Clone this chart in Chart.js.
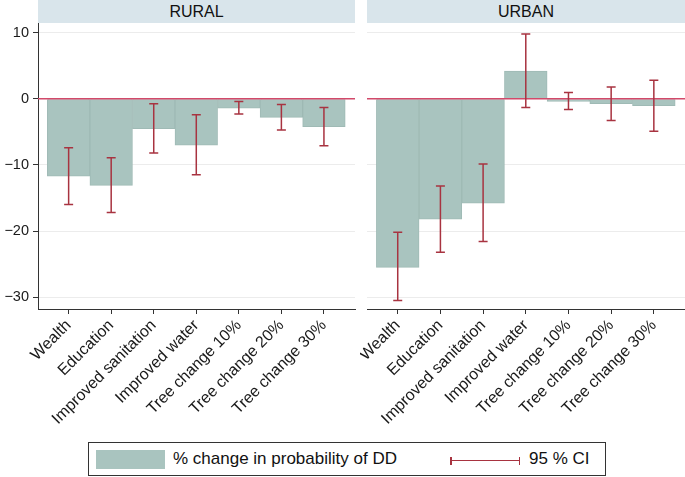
<!DOCTYPE html>
<html>
<head>
<meta charset="utf-8">
<script src="https://cdn.jsdelivr.net/npm/chart.js@4/dist/chart.umd.min.js"></script>
<style>
  body { margin: 0; background: #fff; font-family: "Liberation Sans", Arial, sans-serif; }
  #wrap { position: relative; width: 685px; height: 477px; overflow: hidden; }
  canvas { position: absolute; top: 0; }
  .strip { position: absolute; top: 0; height: 23px; background: #d9e5eb; color: #111;
           font-size: 16px; line-height: 23px; text-align: center; }
  #legend { position: absolute; left: 88px; top: 442px; width: 516px; height: 32px;
            border: 1px solid #333; box-sizing: content-box; font-size: 17px; color: #111; }
  #legend .sw { position: absolute; left: 7px; top: 7px; width: 69px; height: 19px; background: #a9c4bf; }
  #legend .t1 { position: absolute; left: 84px; top: 6px; }
  #legend .ci { position: absolute; left: 361px; top: 14px; width: 70px; height: 8px; }
  #legend .ci .h { position: absolute; left: 0; right: 0; top: 3px; height: 1.3px; background: #a83340; }
  #legend .ci .l, #legend .ci .r { position: absolute; top: 0; width: 1.5px; height: 8px; background: #a83340; }
  #legend .ci .l { left: 0; } #legend .ci .r { right: 0; }
  #legend .t2 { position: absolute; left: 440px; top: 6px; }
</style>
</head>
<body>
<div id="wrap">
  <canvas id="rural" width="357" height="440" style="left:0"></canvas>
  <canvas id="urban" width="325" height="440" style="left:360px"></canvas>
  <div class="strip" style="left:38px;width:317px">RURAL</div>
  <div class="strip" style="left:367px;width:318px">URBAN</div>
  <div id="legend">
    <div class="sw"></div>
    <div class="t1">% change in probability of DD</div>
    <div class="ci"><div class="h"></div><div class="l"></div><div class="r"></div></div>
    <div class="t2">95 % CI</div>
  </div>
</div>
<script>
var categories = ["Wealth", "Education", "Improved sanitation", "Improved water",
                  "Tree change 10%", "Tree change 20%", "Tree change 30%"];
var ruralChange = [-11.7, -13.1, -4.5, -7.0, -1.4, -2.8, -4.2];
var ruralLow    = [-16.0, -17.2, -8.2, -11.5, -2.3, -4.7, -7.1];
var ruralHigh   = [-7.4, -8.9, -0.75, -2.4, -0.4, -0.85, -1.3];
var urbanChange = [-25.5, -18.2, -15.8, 4.2, -0.4, -0.75, -1.05];
var urbanLow    = [-30.5, -23.2, -21.6, -1.3, -1.6, -3.3, -4.9];
var urbanHigh   = [-20.2, -13.2, -9.85, 9.8, 0.95, 1.8, 2.8];
var yTicks = [-30, -20, -10, 0, 10];

var fam = "'Liberation Sans', Arial, sans-serif";

// zero line + confidence interval whiskers, placed with the chart's scales
var ciPlugin = {
  id: 'ciBars',
  afterDatasetsDraw(chart, args, opts) {
    var ctx = chart.ctx, xs = chart.scales.x, ys = chart.scales.y, area = chart.chartArea;
    ctx.save();
    var y0 = ys.getPixelForValue(0);
    ctx.strokeStyle = '#d2496a';
    ctx.lineWidth = 1.5;
    ctx.beginPath();
    ctx.moveTo(area.left, y0);
    ctx.lineTo(area.right, y0);
    ctx.stroke();

    ctx.strokeStyle = '#a83340';
    ctx.lineWidth = 1.5;
    opts.low.forEach(function(lo, i) {
      var x = xs.getPixelForValue(i);
      var yl = ys.getPixelForValue(lo), yh = ys.getPixelForValue(opts.high[i]);
      ctx.beginPath();
      ctx.moveTo(x, yl); ctx.lineTo(x, yh);
      ctx.moveTo(x - 4.5, yl); ctx.lineTo(x + 4.5, yl);
      ctx.moveTo(x - 4.5, yh); ctx.lineTo(x + 4.5, yh);
      ctx.stroke();
    });
    ctx.restore();
  }
};

function makePanel(id, values, low, high, showY) {
  return new Chart(id, {
    type: 'bar',
    data: {
      datasets: [{
        data: values.map((v, i) => ({x: i, y: v})),
        backgroundColor: '#a9c4bf',
        borderColor: '#9fbab5',
        borderWidth: 1,
        barPercentage: 1,
        categoryPercentage: 1
      }]
    },
    options: {
      responsive: false,
      animation: false,
      layout: {padding: {top: 23, right: showY ? 2 : 0, left: 0, bottom: 0}},
      plugins: {
        legend: {display: false},
        tooltip: {enabled: false},
        ciBars: {low: low, high: high}
      },
      scales: {
        x: {
          type: 'linear',
          offset: false,
          min: -0.72,
          max: 6.73,
          afterBuildTicks: s => { s.ticks = categories.map((c, i) => ({value: i})); },
          afterFit: s => { s.height = 131; s.paddingLeft = 0; s.paddingRight = 0; },
          ticks: {
            autoSkip: false, minRotation: 45, maxRotation: 45, padding: 2,
            font: {family: fam, size: 16}, color: '#1a1a1a',
            callback: v => categories[v]
          },
          grid: {offset: false, drawOnChartArea: false, tickLength: 5, tickColor: '#333'},
          border: {color: '#333'}
        },
        y: {
          min: -31.8,
          max: 11.47,
          afterBuildTicks: s => { s.ticks = yTicks.map(v => ({value: v})); },
          afterFit: s => { s.width = showY ? 38 : 7; s.paddingTop = 0; s.paddingBottom = 0; },
          ticks: {
            display: showY, padding: 4, font: {family: fam, size: 14.5}, color: '#1a1a1a',
            callback: v => v < 0 ? '\u2212' + Math.abs(v) : String(v)
          },
          grid: {color: '#ececec', tickColor: '#333', tickLength: showY ? 5 : 0, drawTicks: showY},
          border: {display: showY, color: '#333'}
        }
      }
    },
    plugins: [ciPlugin]
  });
}

makePanel('rural', ruralChange, ruralLow, ruralHigh, true);
makePanel('urban', urbanChange, urbanLow, urbanHigh, false);
</script>
</body>
</html>
